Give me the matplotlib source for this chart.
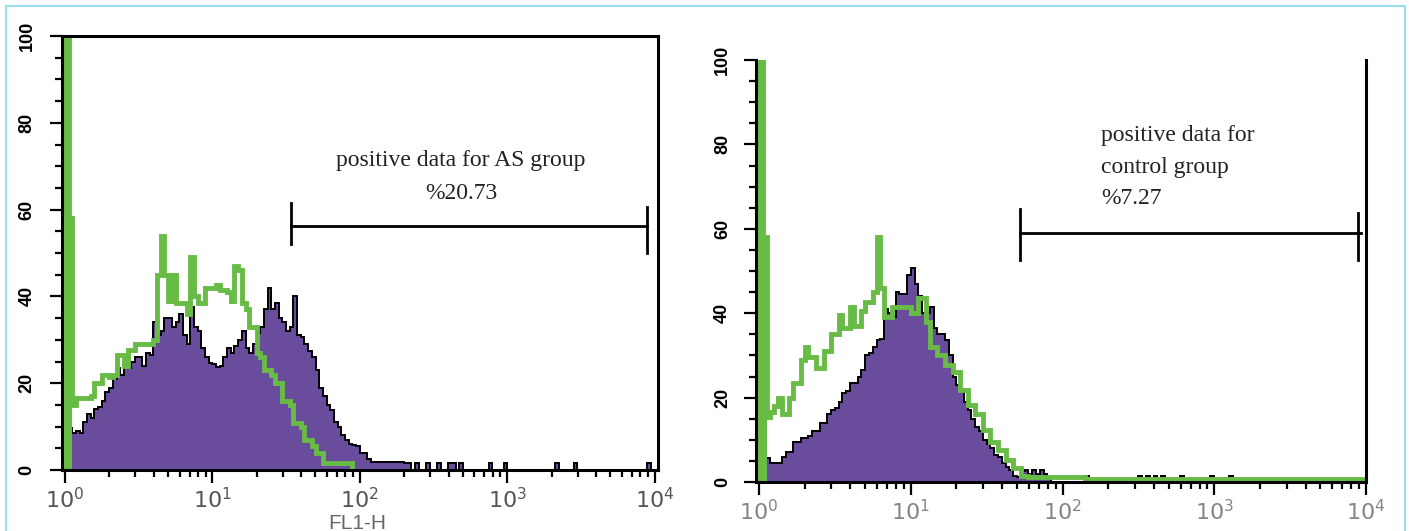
import numpy as np
import matplotlib
matplotlib.use("Agg")
import matplotlib.pyplot as plt
from matplotlib.ticker import LogLocator, MultipleLocator, NullFormatter
from matplotlib.patches import Rectangle

plt.rcParams["mathtext.fontset"] = "custom"
plt.rcParams["mathtext.rm"] = "Liberation Sans"

# histogram channels: bin width in decades, first bin starts at 10^0
BIN = 0.025

# AS group (left) - counts per bin
as_purple = [8, 9.7, 8.5, 9, 8.5, 11, 13, 12, 14, 14.5,
             16, 18, 19, 21, 23.5, 22, 25, 23.6, 25, 26,
             26, 24, 27, 26.5, 34, 31, 32, 35, 35, 33,
             34, 36, 31, 29, 37.5, 33, 32, 28, 26, 24.6,
             24.5, 23.7, 24, 26, 28, 27, 28.5, 30, 32, 28,
             27, 29, 31.5, 33, 37, 42, 37, 38.5, 35, 34,
             32, 33, 40, 31, 30.7, 29, 27.5, 26, 23, 19,
             17, 15, 13.8, 11, 10, 8, 7, 6, 5.7, 5.5,
             4, 4, 2.5, 1.8, 1.8, 1.8, 1.8, 1.8, 1.8, 1.8,
             1.8, 1.8, 1.5, 1.5]
as_tail_pos = [2.40, 2.46, 2.54, 2.61, 2.64, 2.69, 2.90, 2.99, 3.34, 3.46, 3.97]
as_tail_h = [1.5, 1.5, 1.5, 1.5, 1.5, 1.5, 1.5, 1.5, 1.5, 1.5, 1.5]
as_green = [105, 58, 15, 16.5, 16.5, 16.5, 16.5, 17, 20, 20,
            22, 22, 21.5, 22, 26.5, 26.5, 24, 27.7, 27.7, 29,
            29, 29, 29, 29, 30, 45, 54, 45, 39, 45,
            38.5, 38.5, 38.5, 36, 49, 40, 38.5, 38.5, 42, 42,
            42, 42.6, 41.5, 41.5, 41, 39, 47, 46, 38.5, 37,
            33, 33, 27, 26, 23, 23, 22, 20, 20, 16,
            16, 15, 10.8, 10.8, 10, 7, 7, 5.5, 4, 4,
            1.6, 1.6, 1.6, 1.6, 1.6, 1.6, 1.6, 1.6]

# control group (right)
ctrl_purple = [5.7, 5.7, 5.7, 4.5, 4.5, 4.5, 6, 7, 7, 9.5,
               9.5, 10.5, 10.5, 11, 12, 12, 14, 14, 16, 17,
               17.5, 19, 21, 21.5, 23.5, 23.5, 25, 26.5, 30, 30.5,
               32, 33.7, 34, 41, 40, 39, 45, 44.5, 44.5, 49,
               50.7, 47, 44, 40, 40, 41.5, 36.5, 35, 35, 33.7,
               30, 25, 23, 22, 19, 17, 15, 13, 12, 10,
               9, 8, 6.5, 6, 4.5, 3.5, 2.8, 1.5, 1.3, 2.5,
               2.8, 2, 2.8, 2, 2.8, 2, 1]
ctrl_tail_pos = [2.17, 2.52, 2.57, 2.62, 2.67, 2.78, 2.98, 3.10]
ctrl_tail_h = [1.5, 1.5, 1.5, 1.5, 1.5, 1.5, 1.5, 1.5]
ctrl_green = [105, 58, 15.4, 16.5, 18, 20, 16, 16, 20, 23.5,
              23.5, 29, 32, 29.7, 29.7, 27, 27, 31, 31, 35,
              35, 39.6, 36.5, 36.5, 41.5, 37, 37, 40.5, 42.7, 42.7,
              45, 58, 46, 39, 39, 41.5, 41.5, 41.5, 41.5, 41.5,
              40, 40, 43.6, 43.6, 38, 32, 32, 30, 30, 27.7,
              27.7, 26, 26, 21.8, 21.8, 18.2, 18.2, 16, 16, 12.3,
              12.3, 9.5, 9.5, 7.6, 7.6, 5.2, 5.2, 3.3, 3.3, 1.4,
              1.4]
# flat green floor after the main peak: (start decade, end decade, height)
ctrl_green_floor = [(1.775, 2.15, 1.2), (2.15, 4.0, 0.6)]

x_ticks = [1, 10, 100, 1000, 10000]
x_labels = [r"$\mathregular{10^{0}}$", r"$\mathregular{10^{1}}$", r"$\mathregular{10^{2}}$",
            r"$\mathregular{10^{3}}$", r"$\mathregular{10^{4}}$"]
y_ticks = [0, 20, 40, 60, 80, 100]
y_labels = ["0", "20", "40", "60", "80", "100"]

PURPLE = "#6a4c9c"
GREEN = "#68bb45"
W, H = 1409, 531


def full_channels(main, tail_pos=(), tail_h=()):
    v = np.zeros(int(round(4 / BIN)))
    v[:len(main)] = main
    for p, h in zip(tail_pos, tail_h):
        v[int(p / BIN)] = h
    return v


def edges_for(n):
    return 10 ** (np.arange(n + 1) * BIN)


def draw(ax, purple, green, green_edges):
    pe = edges_for(len(purple))
    ax.stairs(purple, pe, baseline=0, fill=True, color=PURPLE, lw=0, zorder=2)
    ax.stairs(purple, pe, baseline=0, color="black", lw=1.4, zorder=3)
    # the debris spike in the first channels is drawn solid
    ax.stairs(green[:2], green_edges[:3], baseline=0, fill=True, color=GREEN, lw=0, zorder=4)
    ax.stairs(green, green_edges, baseline=0, color=GREEN, lw=3.5, zorder=4)


def style(ax, label_color, ylab_pad, xlab_pad):
    ax.set_xscale("log")
    ax.set_ylim(0, 100)
    ax.set_xticks(x_ticks)
    ax.set_xticklabels(x_labels, fontsize=16, color=label_color)
    ax.xaxis.set_minor_locator(LogLocator(base=10, subs=np.arange(2, 10)))
    ax.xaxis.set_minor_formatter(NullFormatter())
    ax.set_yticks(y_ticks)
    ax.set_yticklabels(y_labels, rotation=90, va="center", fontsize=13,
                       fontweight="bold", family="Liberation Sans")
    ax.yaxis.set_minor_locator(MultipleLocator(5))
    ax.tick_params(axis="both", which="major", direction="out", length=9, width=1.6)
    ax.tick_params(axis="both", which="minor", direction="out", length=5, width=1.6)
    ax.tick_params(axis="y", pad=ylab_pad)
    ax.tick_params(axis="x", pad=xlab_pad)
    for s in ax.spines.values():
        s.set_linewidth(2.2)
        s.set_zorder(6)


fig = plt.figure(figsize=(W / 100, H / 100), dpi=100)

# ---- left: AS group
ax1 = fig.add_axes([62 / W, 1 - 470 / H, 596 / W, 434 / H])
draw(ax1, full_channels(as_purple, as_tail_pos, as_tail_h), as_green, edges_for(len(as_green)))
style(ax1, "#555555", 10, 3)
ax1.set_xlim(10 ** -0.02, 10 ** 4.023)
ax1.text(10 ** 2.687, 71.2, "positive data for AS group", ha="center", va="center",
         fontsize=17, family="Liberation Serif", color="#222222")
ax1.text(10 ** 2.687, 63.6, "%20.73", ha="center", va="center",
         fontsize=17, family="Liberation Serif", color="#222222")
ax1.plot([10 ** 1.533, 10 ** 3.95], [56.2, 56.2], color="black", lw=2)
ax1.plot([10 ** 1.533] * 2, [52, 61.5], color="black", lw=2)
ax1.plot([10 ** 3.95] * 2, [50, 60.6], color="black", lw=2)

# ---- right: control group
ax2 = fig.add_axes([756 / W, 1 - 482 / H, 610 / W, 422 / H])
g_edges = list(edges_for(len(ctrl_green)))
g_vals = list(ctrl_green)
for a, b, h in ctrl_green_floor:
    g_edges.append(10 ** b)
    g_vals.append(h)
draw(ax2, full_channels(ctrl_purple, ctrl_tail_pos, ctrl_tail_h), g_vals, g_edges)
style(ax2, "#858585", 9, 3)
ax2.set_xlim(10 ** -0.02, 10 ** 4.0)
ax2.spines["top"].set_visible(False)
for i, line in enumerate(["positive data for", "control group", "%7.27"]):
    ax2.text(10 ** 2.254, [82, 74.5, 67.1][i], line, ha="left", va="center",
             fontsize=17, family="Liberation Serif", color="#222222")
ax2.plot([10 ** 1.72, 10 ** 3.97], [59, 59], color="black", lw=2)
ax2.plot([10 ** 1.72] * 2, [52.6, 64.7], color="black", lw=2)
ax2.plot([10 ** 3.95] * 2, [52.6, 63.8], color="black", lw=2)

# cropped axis title under the left panel
fig.text(357 / W, 1 - 514 / H, "FL1-H", ha="center", va="top", fontsize=15,
         color="#666666", family="Liberation Sans")

# light blue frame of the figure panel
fig.patches.append(Rectangle((6 / W, -0.2), 1399 / W, 1.2 - 6 / H, transform=fig.transFigure,
                             fill=False, edgecolor="#9adcf0", lw=1.5))

fig.savefig("out.png", dpi=100)
